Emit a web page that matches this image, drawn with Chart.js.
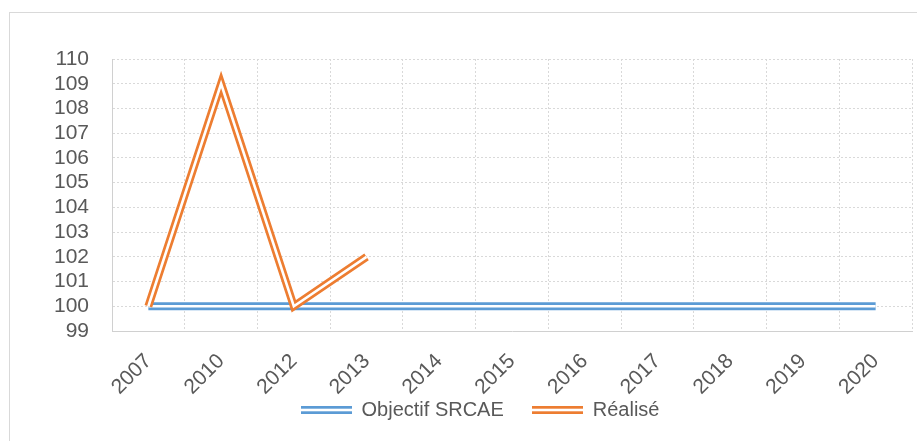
<!DOCTYPE html>
<html>
<head>
<meta charset="utf-8">
<script src="https://cdn.jsdelivr.net/npm/chart.js@4.4.1/dist/chart.umd.min.js"></script>
<style>
  body { margin: 0; background: #fff; }
  #frame { position: absolute; left: 9px; top: 12px; width: 950px; height: 480px; border: 1px solid #d9d9d9; }
  #wrap { position: absolute; left: 0; top: 0; width: 917px; height: 441px; }
</style>
</head>
<body>
<div id="frame"></div>
<div id="wrap"><canvas id="chart" width="917" height="441"></canvas></div>
<script>
const years = ['2007', '2010', '2012', '2013', '2014', '2015', '2016', '2017', '2018', '2019', '2020'];
const objectif = [100, 100, 100, 100, 100, 100, 100, 100, 100, 100, 100];
const realise = [100, 109, 100, 102, null, null, null, null, null, null, null];

const blue = '#5b9bd5';
const orange = '#ed7d31';
const textColor = '#595959';
const gridColor = '#d9d9d9';

// little double-line picture for the legend
function swatch(color) {
    const c = document.createElement('canvas');
    c.width = 51;
    c.height = 8;
    const g = c.getContext('2d');
    g.fillStyle = color;
    g.fillRect(0, 0, 51, 2.7);
    g.fillRect(0, 5.3, 51, 2.7);
    return c;
}

// white stroke over each line gives the "double" look
const doubleLine = {
    id: 'doubleLine',
    afterLayout(chart) {
        // let the rotated year labels run down under the legend's top padding
        chart.scales.x.bottom = chart.height;
    },
    afterDatasetDraw(chart, args) {
        const ctx = chart.ctx;
        ctx.save();
        ctx.strokeStyle = '#fff';
        ctx.lineWidth = 2.6;
        ctx.lineJoin = 'miter';
        ctx.beginPath();
        let started = false;
        args.meta.data.forEach(pt => {
            if (pt.skip) { started = false; return; }
            if (!started) { ctx.moveTo(pt.x, pt.y); started = true; }
            else ctx.lineTo(pt.x, pt.y);
        });
        ctx.stroke();
        ctx.restore();
    }
};

const font = { family: 'Liberation Sans', size: 20 };
const tickFont = { family: 'Liberation Sans', size: 21 };

new Chart(document.querySelector('#chart').getContext('2d'), {
    type: 'line',
    data: {
        labels: years,
        datasets: [
            {
                label: 'Objectif SRCAE',
                data: objectif,
                borderColor: blue,
                borderWidth: 8,
                pointRadius: 0,
                order: 1
            },
            {
                label: 'Réalisé',
                data: realise,
                borderColor: orange,
                borderWidth: 8,
                pointRadius: 0,
                borderJoinStyle: 'miter',
                order: 0
            }
        ]
    },
    options: {
        responsive: false,
        animation: false,
        layout: { padding: { left: 48, right: 5, top: 59, bottom: 11 } },
        plugins: {
            tooltip: { enabled: false },
            legend: {
                position: 'bottom',
                labels: {
                    font: font,
                    color: textColor,
                    usePointStyle: true,
                    pointStyleWidth: 51,
                    padding: 28,
                    generateLabels: chart => chart.data.datasets.map((ds, i) => ({
                        text: ds.label,
                        pointStyle: swatch(ds.borderColor),
                        fontColor: textColor,
                        fillStyle: 'transparent',
                        strokeStyle: 'transparent',
                        lineWidth: 0,
                        hidden: false,
                        datasetIndex: i
                    }))
                }
            }
        },
        scales: {
            x: {
                offset: true,
                grid: { offset: true, color: gridColor, drawTicks: false },
                border: { color: '#d0d0d0', dash: [2, 2] },
                ticks: { font: tickFont, color: textColor, minRotation: 45, maxRotation: 45, padding: 18, autoSkip: false },
                afterFit: s => { s.height = 41; }
            },
            y: {
                min: 99,
                max: 110,
                grid: { color: gridColor, drawTicks: false },
                border: { color: '#d0d0d0', dash: [2, 2] },
                ticks: { stepSize: 1, font: tickFont, color: textColor, padding: 23, autoSkip: false },
                afterFit: s => { s.width = 64; }
            }
        }
    },
    plugins: [doubleLine]
});
</script>
</body>
</html>
